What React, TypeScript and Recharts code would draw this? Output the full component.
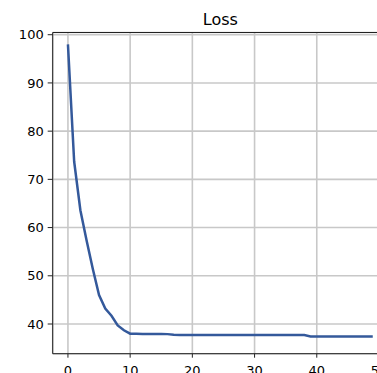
import { LineChart, CartesianGrid, XAxis, YAxis, Line, ReferenceLine } from "recharts"

const epochs = [
    0, 1, 2, 3, 4, 5, 6, 7, 8, 9,
    10, 11, 12, 13, 14, 15, 16, 17, 18, 19,
    20, 21, 22, 23, 24, 25, 26, 27, 28, 29,
    30, 31, 32, 33, 34, 35, 36, 37, 38, 39,
    40, 41, 42, 43, 44, 45, 46, 47, 48, 49,
]

const loss = [
    98.0, 73.7, 63.6, 57.3, 51.4, 46.0, 43.2, 41.7, 39.7, 38.7,
    38.0, 38.0, 37.95, 37.95, 37.95, 37.95, 37.9, 37.75, 37.7, 37.7,
    37.7, 37.7, 37.7, 37.7, 37.7, 37.7, 37.7, 37.7, 37.7, 37.7,
    37.7, 37.7, 37.7, 37.7, 37.7, 37.7, 37.7, 37.7, 37.7, 37.4,
    37.4, 37.4, 37.4, 37.4, 37.4, 37.4, 37.4, 37.4, 37.4, 37.4,
]

const xTicks = [0, 10, 20, 30, 40, 50]
const yTicks = [40, 50, 60, 70, 80, 90, 100]
const title = "Loss"

const X_MIN = -2.45
const X_MAX = 51.45
const Y_MIN = 33.84
const Y_MAX = 100.46

const data = epochs.map((e, i) => ({ epoch: e, loss: loss[i] }))

const tickStyle = { fill: "#000", fontSize: 13, fontFamily: "DejaVu Sans" }

const App = () => {
    return (
        <div style={{ position: "absolute", left: 0, top: 0, width: 377, height: 373, overflow: "hidden", background: "#fff" }}>
            <LineChart width={400} height={373} data={data}
                margin={{ top: 32.5, right: 12, left: 0, bottom: 0 }}>
                <CartesianGrid stroke="#c8c8c8" strokeWidth={1.6} />
                <XAxis dataKey="epoch" type="number" domain={[X_MIN, X_MAX]} ticks={xTicks}
                    allowDataOverflow height={19.3} tickSize={4} tickMargin={8}
                    stroke="#222" tick={tickStyle} interval={0} />
                <YAxis type="number" domain={[Y_MIN, Y_MAX]} ticks={yTicks}
                    allowDataOverflow width={52.7} tickSize={5} tickMargin={4}
                    stroke="#222" tick={tickStyle} interval={0} />
                <ReferenceLine y={Y_MAX} stroke="#222" strokeWidth={1.2}
                    label={{ value: title, position: "top", offset: 7.5, fill: "#000", fontSize: 16, fontFamily: "DejaVu Sans" }} />
                <Line type="linear" dataKey="loss" stroke="#34599b" strokeWidth={2.5}
                    dot={false} isAnimationActive={false} />
            </LineChart>
        </div>
    )
}

export default App
